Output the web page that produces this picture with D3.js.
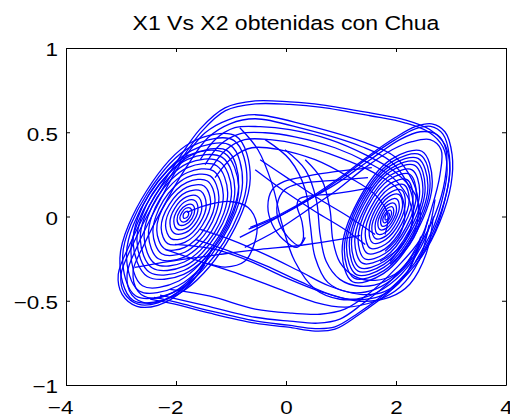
<!DOCTYPE html>
<html>
<head>
<meta charset="utf-8">
<script src="https://cdn.jsdelivr.net/npm/d3@7"></script>
<style>
  body { margin: 0; background: #ffffff; }
  text { font-family: 'Liberation Sans', Arial, Helvetica, sans-serif; }
</style>
</head>
<body>
<div id="chart"></div>
<script>
const chartTitle = 'X1 Vs X2 obtenidas con Chua';
const xDomain = [-4, 4];
const yDomain = [-1, 1];
const xTicks = [-4, -2, 0, 2, 4];
const yTicks = [-1, -0.5, 0, 0.5, 1];

// Left scroll, around (-1.8, 0)
const leftScrollRings = [
  [[-1.78, 0.030], [-1.77, 0.019], [-1.78, 0.003], [-1.82, -0.009], [-1.86, -0.010], [-1.87, 0.001], [-1.86, 0.017], [-1.82, 0.029]],
  [[-1.74, 0.050], [-1.71, 0.028], [-1.75, -0.005], [-1.82, -0.029], [-1.90, -0.030], [-1.93, -0.008], [-1.89, 0.025], [-1.82, 0.049]],
  [[-1.70, 0.070], [-1.66, 0.037], [-1.71, -0.012], [-1.83, -0.048], [-1.94, -0.050], [-1.98, -0.017], [-1.93, 0.032], [-1.81, 0.068]],
  [[-1.66, 0.095], [-1.60, 0.048], [-1.67, -0.021], [-1.83, -0.072], [-1.98, -0.075], [-2.04, -0.028], [-1.97, 0.041], [-1.81, 0.092]],
  [[-1.61, 0.120], [-1.53, 0.060], [-1.62, -0.030], [-1.83, -0.096], [-2.03, -0.100], [-2.11, -0.040], [-2.02, 0.050], [-1.81, 0.116]],
  [[-1.55, 0.151], [-1.45, 0.073], [-1.57, -0.041], [-1.83, -0.125], [-2.09, -0.131], [-2.19, -0.053], [-2.07, 0.061], [-1.81, 0.145]],
  [[-1.49, 0.181], [-1.37, 0.087], [-1.52, -0.052], [-1.84, -0.154], [-2.15, -0.161], [-2.27, -0.067], [-2.12, 0.072], [-1.80, 0.174]],
  [[-1.43, 0.211], [-1.29, 0.100], [-1.46, -0.063], [-1.84, -0.183], [-2.21, -0.191], [-2.35, -0.080], [-2.18, 0.083], [-1.80, 0.203]],
  [[-1.38, 0.241], [-1.22, 0.114], [-1.41, -0.074], [-1.84, -0.212], [-2.26, -0.221], [-2.42, -0.094], [-2.23, 0.094], [-1.80, 0.232]],
  [[-1.32, 0.271], [-1.14, 0.128], [-1.35, -0.085], [-1.85, -0.241], [-2.32, -0.251], [-2.50, -0.108], [-2.29, 0.105], [-1.79, 0.261]],
  [[-1.26, 0.301], [-1.06, 0.141], [-1.30, -0.096], [-1.85, -0.270], [-2.38, -0.281], [-2.58, -0.121], [-2.34, 0.116], [-1.79, 0.290]],
  [[-1.21, 0.326], [-0.99, 0.153], [-1.26, -0.105], [-1.85, -0.295], [-2.43, -0.306], [-2.65, -0.133], [-2.38, 0.125], [-1.79, 0.315]],
  [[-1.16, 0.351], [-0.93, 0.164], [-1.21, -0.114], [-1.85, -0.319], [-2.48, -0.331], [-2.71, -0.144], [-2.43, 0.134], [-1.79, 0.339]],
  [[-1.12, 0.376], [-0.86, 0.175], [-1.17, -0.123], [-1.86, -0.343], [-2.52, -0.356], [-2.78, -0.155], [-2.47, 0.143], [-1.78, 0.363]],
  [[-1.07, 0.391], [-0.86, 0.185], [-1.22, -0.135], [-1.95, -0.383], [-2.61, -0.411], [-2.82, -0.205], [-2.46, 0.115], [-1.73, 0.363]],
  [[-1.01, 0.422], [-0.79, 0.200], [-1.18, -0.145], [-1.96, -0.411], [-2.67, -0.442], [-2.90, -0.220], [-2.50, 0.125], [-1.72, 0.391]],
  [[-0.95, 0.452], [-0.71, 0.214], [-1.13, -0.154], [-1.97, -0.438], [-2.73, -0.472], [-2.97, -0.234], [-2.52, 0.138], [-1.71, 0.418]],
  [[-0.91, 0.477], [-0.65, 0.227], [-1.09, -0.162], [-1.97, -0.462], [-2.78, -0.497], [-3.02, -0.247], [-2.54, 0.150], [-1.71, 0.442]]
];

// Right scroll, around (1.85, 0)
const rightScrollRings = [
  [[1.87, 0.021], [1.88, 0.011], [1.87, -0.005], [1.84, -0.018], [1.81, -0.021], [1.80, -0.011], [1.81, 0.005], [1.84, 0.018]],
  [[1.90, 0.037], [1.92, 0.020], [1.89, -0.009], [1.83, -0.032], [1.78, -0.037], [1.76, -0.020], [1.79, 0.009], [1.85, 0.032]],
  [[1.93, 0.058], [1.96, 0.031], [1.92, -0.014], [1.83, -0.050], [1.75, -0.058], [1.72, -0.031], [1.76, 0.014], [1.85, 0.050]],
  [[1.97, 0.078], [2.01, 0.042], [1.95, -0.019], [1.83, -0.069], [1.71, -0.078], [1.67, -0.042], [1.73, 0.019], [1.85, 0.069]],
  [[2.01, 0.105], [2.06, 0.056], [1.98, -0.025], [1.82, -0.092], [1.67, -0.105], [1.62, -0.056], [1.70, 0.025], [1.86, 0.092]],
  [[2.05, 0.131], [2.12, 0.070], [2.02, -0.031], [1.82, -0.115], [1.63, -0.131], [1.56, -0.070], [1.66, 0.031], [1.86, 0.115]],
  [[2.10, 0.157], [2.17, 0.084], [2.06, -0.038], [1.81, -0.137], [1.58, -0.157], [1.51, -0.084], [1.62, 0.038], [1.87, 0.137]],
  [[2.15, 0.188], [2.24, 0.101], [2.10, -0.045], [1.81, -0.165], [1.53, -0.188], [1.44, -0.101], [1.58, 0.045], [1.87, 0.165]],
  [[2.20, 0.219], [2.31, 0.118], [2.14, -0.053], [1.80, -0.192], [1.48, -0.219], [1.37, -0.118], [1.54, 0.053], [1.88, 0.192]],
  [[2.25, 0.251], [2.37, 0.135], [2.19, -0.060], [1.80, -0.220], [1.43, -0.251], [1.31, -0.135], [1.49, 0.060], [1.88, 0.220]],
  [[2.29, 0.277], [2.43, 0.149], [2.22, -0.066], [1.79, -0.243], [1.39, -0.277], [1.25, -0.149], [1.46, 0.066], [1.89, 0.243]],
  [[2.34, 0.303], [2.49, 0.163], [2.26, -0.073], [1.79, -0.266], [1.34, -0.303], [1.19, -0.163], [1.42, 0.073], [1.89, 0.266]],
  [[2.37, 0.324], [2.53, 0.174], [2.29, -0.078], [1.78, -0.284], [1.31, -0.324], [1.15, -0.174], [1.39, 0.078], [1.90, 0.284]],
  [[2.40, 0.345], [2.58, 0.186], [2.32, -0.083], [1.78, -0.302], [1.28, -0.345], [1.10, -0.186], [1.36, 0.083], [1.90, 0.302]],
  [[2.44, 0.366], [2.62, 0.197], [2.35, -0.088], [1.78, -0.321], [1.24, -0.366], [1.06, -0.197], [1.33, 0.088], [1.91, 0.321]],
  [[2.47, 0.387], [2.66, 0.208], [2.37, -0.093], [1.77, -0.339], [1.21, -0.387], [1.02, -0.208], [1.31, 0.093], [1.91, 0.339]]
];

// Outer passes over the top, down the left side of the left scroll
const topArcs = [
  [[2.40, -0.270], [2.72, -0.080], [2.89, 0.101], [2.98, 0.278], [2.89, 0.426], [2.62, 0.515], [2.16, 0.574], [1.53, 0.615],
   [0.65, 0.663], [0.07, 0.680], [-0.56, 0.686], [-1.11, 0.645], [-1.56, 0.520], [-2.02, 0.308], [-2.47, 0.071],
   [-2.84, -0.166], [-3.05, -0.343], [-2.98, -0.462], [-2.71, -0.533], [-2.33, -0.527], [-1.84, -0.432], [-1.47, -0.284]],
  [[2.35, -0.270], [2.66, -0.080], [2.84, 0.101], [2.93, 0.278], [2.85, 0.415], [2.60, 0.500], [2.16, 0.556], [1.53, 0.598],
   [0.65, 0.648], [0.07, 0.665], [-0.56, 0.668], [-1.10, 0.628], [-1.53, 0.505], [-1.98, 0.300], [-2.42, 0.065],
   [-2.79, -0.170], [-3.00, -0.345], [-2.94, -0.455], [-2.69, -0.520], [-2.33, -0.512], [-1.86, -0.420], [-1.50, -0.275]],
  [[1.98, -0.266], [2.35, -0.077], [2.40, 0.101], [2.29, 0.219], [1.98, 0.355], [1.44, 0.438], [0.35, 0.544], [-0.56, 0.604],
   [-1.05, 0.574], [-1.47, 0.497], [-1.93, 0.308], [-2.33, 0.071], [-2.69, -0.166], [-2.89, -0.343], [-2.80, -0.467],
   [-2.51, -0.515], [-2.11, -0.479], [-1.65, -0.361], [-1.35, -0.195]],
  [[1.89, -0.266], [2.25, -0.089], [2.31, 0.089], [2.20, 0.201], [1.89, 0.331], [1.38, 0.414], [0.31, 0.521], [-0.56, 0.580],
   [-1.02, 0.550], [-1.42, 0.467], [-1.84, 0.278], [-2.24, 0.053], [-2.58, -0.166], [-2.78, -0.325], [-2.69, -0.444],
   [-2.44, -0.485], [-2.05, -0.450], [-1.62, -0.331], [-1.31, -0.178]]
];

// Outer passes under the bottom, up the right side of the right scroll
const bottomArcs = [
  [[-2.47, -0.490], [-2.02, -0.520], [-1.38, -0.574], [-0.56, -0.633], [0.04, -0.657], [0.53, -0.680], [0.89, -0.669],
   [1.31, -0.586], [1.89, -0.444], [2.47, -0.237], [2.80, -0.030], [3.00, 0.189], [3.02, 0.367], [2.89, 0.503],
   [2.65, 0.550], [2.35, 0.533], [1.98, 0.467], [1.53, 0.367], [0.98, 0.231], [0.44, 0.112], [-0.11, 0.012], [-0.65, -0.065]],
  [[-2.40, -0.480], [-2.00, -0.508], [-1.38, -0.560], [-0.56, -0.620], [0.04, -0.645], [0.53, -0.665], [0.89, -0.655],
   [1.31, -0.574], [1.89, -0.432], [2.45, -0.228], [2.76, -0.025], [2.95, 0.189], [2.97, 0.360], [2.85, 0.490],
   [2.63, 0.535], [2.35, 0.520], [1.98, 0.455], [1.53, 0.357], [0.98, 0.222], [0.44, 0.104], [-0.11, 0.004], [-0.68, -0.075]],
  [[-2.29, -0.467], [-1.56, -0.521], [-0.56, -0.598], [0.07, -0.621], [0.58, -0.633], [0.98, -0.609], [1.38, -0.521],
   [1.93, -0.373], [2.40, -0.183], [2.71, 0.012], [2.89, 0.219], [2.91, 0.396], [2.75, 0.485], [2.44, 0.503],
   [2.07, 0.456], [1.53, 0.337], [0.89, 0.189], [0.25, 0.071], [-0.29, -0.030], [-0.84, -0.124]],
  [[-2.11, -0.432], [-1.38, -0.473], [-0.56, -0.550], [0.11, -0.574], [0.62, -0.580], [1.07, -0.550], [1.49, -0.462],
   [1.98, -0.314], [2.44, -0.136], [2.65, 0.053], [2.80, 0.249], [2.82, 0.396], [2.62, 0.456], [2.29, 0.444],
   [1.93, 0.396], [1.44, 0.290], [0.89, 0.148], [0.35, 0.030], [-0.20, -0.089], [-0.75, -0.183]]
];

// From the top of the left scroll across into the right scroll
const crossArcs = [
  [[-1.56, 0.337], [-1.29, 0.456], [-0.93, 0.527], [-0.47, 0.533], [0.07, 0.515], [0.80, 0.456], [1.44, 0.367],
   [1.98, 0.266], [2.35, 0.130], [2.44, -0.018], [2.25, -0.166], [1.89, -0.284]],
  [[-1.47, 0.308], [-1.20, 0.426], [-0.84, 0.491], [-0.38, 0.497], [0.16, 0.473], [0.89, 0.408], [1.49, 0.320],
   [1.98, 0.219], [2.25, 0.089], [2.29, -0.047], [2.07, -0.183], [1.71, -0.266]],
  [[-1.38, 0.278], [-1.09, 0.396], [-0.75, 0.456], [-0.29, 0.456], [0.25, 0.426], [0.98, 0.349], [1.56, 0.266],
   [2.04, 0.160], [2.16, 0.030], [2.07, -0.107], [1.80, -0.207]],
  [[-1.29, 0.231], [-0.98, 0.349], [-0.62, 0.408], [-0.11, 0.396], [0.53, 0.337], [1.16, 0.231], [1.62, 0.130],
   [1.85, 0.012], [1.80, -0.107]]
];

// Curves dropping through the middle and wrapping under the right scroll
const uCurves = [
  [[-0.84, 0.527], [-0.51, 0.396], [-0.25, 0.189], [-0.07, -0.047], [0.16, -0.266], [0.53, -0.432], [0.98, -0.491],
   [1.44, -0.479], [1.89, -0.402], [2.29, -0.266], [2.58, -0.089], [2.71, 0.101]],
  [[-0.38, 0.456], [0.07, 0.337], [0.35, 0.160], [0.44, -0.047], [0.53, -0.243], [0.76, -0.391], [1.16, -0.450],
   [1.62, -0.432], [2.04, -0.343], [2.40, -0.195], [2.58, -0.018]],
  [[-0.02, 0.396], [0.35, 0.278], [0.55, 0.101], [0.62, -0.107], [0.73, -0.266], [0.98, -0.373], [1.35, -0.414],
   [1.80, -0.385], [2.16, -0.290], [2.44, -0.136]],
  [[0.35, 0.337], [0.65, 0.219], [0.80, 0.041], [0.85, -0.136], [0.98, -0.272], [1.25, -0.355], [1.62, -0.379],
   [1.98, -0.343], [2.29, -0.243]]
];

// Small lobes near the origin and to the right of the left scroll
const middleLoops = [
  [[1.56, 0.290], [0.89, 0.266], [0.35, 0.237], [-0.04, 0.207], [-0.25, 0.160], [-0.33, 0.059], [-0.25, -0.047],
   [-0.05, -0.136], [0.20, -0.183], [0.31, -0.136], [0.29, -0.030], [0.20, 0.065], [0.25, 0.107], [0.89, 0.136], [1.56, 0.172]],
  [[1.49, 0.231], [0.80, 0.213], [0.25, 0.195], [-0.02, 0.160], [-0.16, 0.071], [-0.13, -0.030], [0.04, -0.124],
   [0.24, -0.172], [0.35, -0.124]],
  [[-1.80, 0.024], [-1.47, 0.065], [-1.02, 0.089], [-0.69, 0.053], [-0.53, -0.047], [-0.58, -0.166], [-0.75, -0.266],
   [-1.10, -0.300], [-1.40, -0.280]]
];

// Lines sweeping from the left scroll towards the bottom of the right scroll
const sweepLines = [
  [[-2.75, -0.302], [-2.11, -0.266], [-1.20, -0.225], [-0.47, -0.195], [0.25, -0.172], [0.98, -0.136], [1.35, -0.112]],
  [[-1.56, -0.077], [-1.02, -0.136], [-0.38, -0.225], [0.25, -0.325], [0.80, -0.414], [1.35, -0.462], [1.80, -0.444],
   [2.20, -0.330], [2.45, -0.120]],
  [[-1.65, -0.136], [-1.02, -0.207], [-0.38, -0.290], [0.25, -0.385], [0.80, -0.462], [1.35, -0.503], [1.89, -0.479],
   [2.25, -0.402], [2.55, -0.220], [2.68, 0.000]],
  [[-2.20, -0.195], [-1.56, -0.266], [-0.84, -0.343], [-0.11, -0.432], [0.53, -0.509], [1.07, -0.538], [1.62, -0.503],
   [2.07, -0.420], [2.42, -0.260], [2.60, -0.050]],
  [[-2.02, -0.166], [-1.29, -0.195], [-0.65, -0.266], [-0.02, -0.361], [0.62, -0.444], [1.16, -0.491], [1.71, -0.473],
   [2.15, -0.360], [2.45, -0.150]],
  [[-0.47, 0.337], [0.07, 0.219], [0.62, 0.101], [1.16, -0.006], [1.62, -0.107]],
  [[-0.56, 0.278], [-0.02, 0.148], [0.53, 0.030], [1.07, -0.077], [1.44, -0.166]]
];

const TEXT_STRETCH = 1.18; // the reference is slightly wider than tall
const LINE_COLOR = '#0000ff';

class D3PhaseChart {
  constructor(element, { width, height }) {
    this.width = width;
    this.height = height;

    this.top = 48;
    this.left = 66;
    this.bottom = 32;
    this.right = 4;

    // Delete svg if already exists
    d3.select(element).selectAll('svg').remove();

    this.svg = d3
      .select(element)
      .append('svg')
      .attr('width', this.width)
      .attr('height', this.height)
      .style('display', 'block');

    this.x = d3.scaleLinear().domain(xDomain).range([this.left, this.width - this.right]);
    this.y = d3.scaleLinear().domain(yDomain).range([this.height - this.bottom, this.top]);
  }

  drawAxes() {
    const { x, y } = this;
    const fmt = d3.format('~g');

    const styleAxis = (g) => {
      g.select('.domain').attr('stroke', '#000').attr('stroke-width', 1);
      g.selectAll('.tick line').attr('stroke', '#000').attr('stroke-width', 1);
    };

    // Bottom axis with labels
    this.svg
      .append('g')
      .attr('transform', `translate(0,${y.range()[0]})`)
      .call(d3.axisBottom(x).tickValues(xTicks).tickSizeInner(-4).tickSizeOuter(0).tickPadding(16).tickFormat(fmt))
      .call(styleAxis)
      .call((g) =>
        g
          .selectAll('.tick text')
          .attr('font-size', 19)
          .attr('fill', '#000')
          .attr('x', (d) => (d < 0 ? -5 : 0))
          .attr('transform', `scale(${TEXT_STRETCH},1)`)
      );

    // Top axis, ticks only
    this.svg
      .append('g')
      .attr('transform', `translate(0,${y.range()[1]})`)
      .call(d3.axisTop(x).tickValues(xTicks).tickSizeInner(-4).tickSizeOuter(0).tickFormat(''))
      .call(styleAxis);

    // Left axis with labels
    this.svg
      .append('g')
      .attr('transform', `translate(${x.range()[0]},0)`)
      .call(d3.axisLeft(y).tickValues(yTicks).tickSizeInner(-4).tickSizeOuter(0).tickPadding(8).tickFormat(fmt))
      .call(styleAxis)
      .call((g) =>
        g
          .selectAll('.tick text')
          .attr('font-size', 19)
          .attr('fill', '#000')
          .attr('x', -8 / TEXT_STRETCH)
          .attr('dy', '0.42em')
          .attr('transform', `scale(${TEXT_STRETCH},1)`)
      );

    // Right axis, ticks only
    this.svg
      .append('g')
      .attr('transform', `translate(${x.range()[1]},0)`)
      .call(d3.axisRight(y).tickValues(yTicks).tickSizeInner(-4).tickSizeOuter(0).tickFormat(''))
      .call(styleAxis);

    // Axis groups carry their own font-family; use the page one
    this.svg.selectAll('g').attr('font-family', null);
  }

  drawTrajectory(rings, paths) {
    const { x, y } = this;

    const openLine = d3
      .line()
      .x((d) => x(d[0]))
      .y((d) => y(d[1]))
      .curve(d3.curveCatmullRom.alpha(0.5));

    const closedLine = d3
      .line()
      .x((d) => x(d[0]))
      .y((d) => y(d[1]))
      .curve(d3.curveCatmullRomClosed.alpha(0.5));

    const plot = this.svg
      .append('g')
      .attr('fill', 'none')
      .attr('stroke', LINE_COLOR)
      .attr('stroke-width', 1.3);

    plot.selectAll('.ring').data(rings).join('path').attr('class', 'ring').attr('d', closedLine);
    plot.selectAll('.pass').data(paths).join('path').attr('class', 'pass').attr('d', openLine);
  }

  drawTitle(text) {
    const cx = (this.x.range()[0] + this.x.range()[1]) / 2;
    this.svg
      .append('text')
      .attr('transform', `translate(${cx},30) scale(${TEXT_STRETCH},1)`)
      .attr('text-anchor', 'middle')
      .attr('font-size', 19.5)
      .attr('fill', '#000')
      .text(text);
  }
}

const chart = new D3PhaseChart(document.getElementById('chart'), { width: 510, height: 417 });
chart.drawTrajectory(
  [...leftScrollRings, ...rightScrollRings],
  [...topArcs, ...bottomArcs, ...crossArcs, ...uCurves, ...middleLoops, ...sweepLines]
);
chart.drawAxes();
chart.drawTitle(chartTitle);
</script>
</body>
</html>
